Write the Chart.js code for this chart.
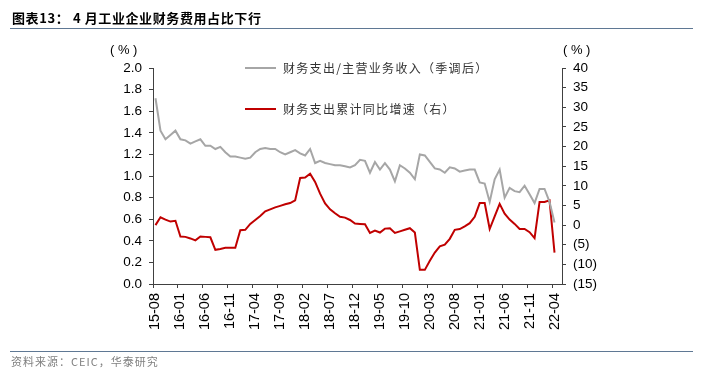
<!DOCTYPE html>
<html><head><meta charset="utf-8">
<script src="https://cdn.jsdelivr.net/npm/chart.js@4/dist/chart.umd.min.js"></script>
<style>
html,body{margin:0;padding:0;background:#fff;}
#wrap{position:relative;width:703px;height:375px;overflow:hidden;background:#fff;}
#c{position:absolute;left:0;top:0;}
.t{position:absolute;white-space:nowrap;}
#title{left:12px;top:8px;font:bold 13px "Noto Sans CJK SC";color:#000;letter-spacing:0.6px;}
.rule{position:absolute;left:10px;width:683px;height:1px;background:#5f7894;}
#src{left:11px;top:353px;font:11px "Noto Sans CJK SC";color:#808080;letter-spacing:1px;}
.unit{font:13px "Liberation Sans";color:#000;}
.lg{font:12px "Noto Sans CJK SC";color:#333;letter-spacing:1.3px;}
.sw{position:absolute;width:31px;height:2px;}
</style></head>
<body><div id="wrap">
<canvas id="c" width="703" height="375"></canvas>
<div class="t" id="title">图表13： 4 月工业企业财务费用占比下行</div>
<div class="rule" style="top:28px"></div>
<div class="rule" style="top:351px"></div>
<div class="t" id="src">资料来源：CEIC，华泰研究</div>
<div class="t unit" style="left:110px;top:42px">( % )</div>
<div class="t unit" style="left:563px;top:42px">( % )</div>
<div class="sw" style="left:245px;top:67px;background:#a6a6a6"></div>
<div class="t lg" style="left:283px;top:59px">财务支出/主营业务收入（季调后）</div>
<div class="sw" style="left:245px;top:108px;background:#c00000"></div>
<div class="t lg" style="left:283px;top:100px">财务支出累计同比增速（右）</div>
</div>
<script>
const months = [
 '15-08','15-09','15-10','15-11','15-12',
 '16-01','16-02','16-03','16-04','16-05','16-06','16-07','16-08','16-09','16-10','16-11','16-12',
 '17-01','17-02','17-03','17-04','17-05','17-06','17-07','17-08','17-09','17-10','17-11','17-12',
 '18-01','18-02','18-03','18-04','18-05','18-06','18-07','18-08','18-09','18-10','18-11','18-12',
 '19-01','19-02','19-03','19-04','19-05','19-06','19-07','19-08','19-09','19-10','19-11','19-12',
 '20-01','20-02','20-03','20-04','20-05','20-06','20-07','20-08','20-09','20-10','20-11','20-12',
 '21-01','21-02','21-03','21-04','21-05','21-06','21-07','21-08','21-09','21-10','21-11','21-12',
 '22-01','22-02','22-03','22-04','22-05'
];
const ratio = [
 1.72,1.42,1.34,1.38,1.42,1.34,1.33,1.30,1.32,1.34,
 1.28,1.28,1.25,1.27,1.22,1.18,1.18,1.17,1.16,1.17,
 1.22,1.25,1.26,1.25,1.25,1.22,1.20,1.22,1.24,1.21,
 1.19,1.25,1.12,1.14,1.12,1.11,1.10,1.10,1.09,1.08,
 1.10,1.15,1.14,1.03,1.13,1.06,1.12,1.06,0.95,1.10,
 1.07,1.03,0.97,1.20,1.19,1.13,1.07,1.06,1.03,1.08,
 1.07,1.04,1.05,1.06,1.06,0.94,0.93,0.76,0.97,1.06,
 0.80,0.89,0.86,0.85,0.91,0.83,0.75,0.88,0.88,0.76,
 0.57
];
const growth = [
 0.0,2.0,1.4,0.9,1.1,-2.9,-3.0,-3.4,-3.9,-2.9,
 -3.0,-3.1,-6.3,-6.1,-5.8,-5.8,-5.8,-1.3,-1.2,0.3,
 1.3,2.3,3.5,4.0,4.5,4.9,5.3,5.6,6.3,12.0,
 12.1,13.1,11.0,8.0,5.5,4.0,3.0,2.1,1.9,1.3,
 0.4,0.3,0.2,-2.0,-1.4,-1.9,-0.9,-0.8,-2.0,-1.6,
 -1.2,-0.8,-1.9,-11.4,-11.4,-9.1,-7.0,-5.4,-5.0,-3.5,
 -1.2,-1.0,-0.3,0.5,2.1,5.6,5.6,-1.0,2.2,5.4,
 2.9,1.4,0.3,-1.0,-1.0,-1.8,-3.3,5.9,5.9,6.3,
 -7.0
];
const leftTicks = {min:0, max:2, step:0.2};
const rightTicks = {min:-15, max:40, step:5};
const axisColor = '#404040';
const tickFont = {family:'"Liberation Sans", Arial', size:13.5};

new Chart(document.getElementById('c'), {
  type:'line',
  data:{labels:months, datasets:[
    {label:'财务支出/主营业务收入（季调后）', data:ratio, yAxisID:'y', borderColor:'#a6a6a6', borderWidth:2, pointRadius:0, tension:0},
    {label:'财务支出累计同比增速（右）', data:growth, yAxisID:'y1', borderColor:'#c00000', borderWidth:2, pointRadius:0, tension:0}
  ]},
  options:{
    responsive:false, animation:false, devicePixelRatio:1,
    layout:{padding:{top:68,left:0,right:0,bottom:0}},
    plugins:{legend:{display:false}, tooltip:{enabled:false}},
    scales:{
      x:{
        type:'category', offset:true,
        grid:{offset:true, drawOnChartArea:false, drawTicks:true, tickLength:4,
              tickColor:(c)=> (c.index!==undefined && c.index%5===0) ? axisColor : 'rgba(0,0,0,0)'},
        border:{display:true, color:axisColor, width:1},
        ticks:{autoSkip:false, minRotation:90, maxRotation:90, padding:5, color:'#000',
               font:{family:'"Liberation Sans", Arial', size:14.5},
               callback:(v,i)=> (i%5===0) ? months[i] : ''},
        afterFit:(s)=>{s.height=91;}
      },
      y:{
        position:'left', min:leftTicks.min, max:leftTicks.max,
        grid:{drawOnChartArea:false, drawTicks:true, tickLength:4, tickColor:axisColor},
        border:{display:true, color:axisColor, width:1},
        ticks:{stepSize:leftTicks.step, padding:7, color:'#000', font:tickFont,
               callback:(v)=> Number(v).toFixed(1)},
        afterFit:(s)=>{s.width=153;}
      },
      y1:{
        position:'right', min:rightTicks.min, max:rightTicks.max,
        grid:{drawOnChartArea:false, drawTicks:true, tickLength:4, tickColor:axisColor},
        border:{display:true, color:axisColor, width:1},
        ticks:{stepSize:rightTicks.step, padding:7, color:'#000', font:tickFont,
               callback:(v)=> v<0 ? '('+(-v)+')' : String(v)},
        afterFit:(s)=>{s.width=141;}
      }
    }
  }
});
</script>
</body></html>
